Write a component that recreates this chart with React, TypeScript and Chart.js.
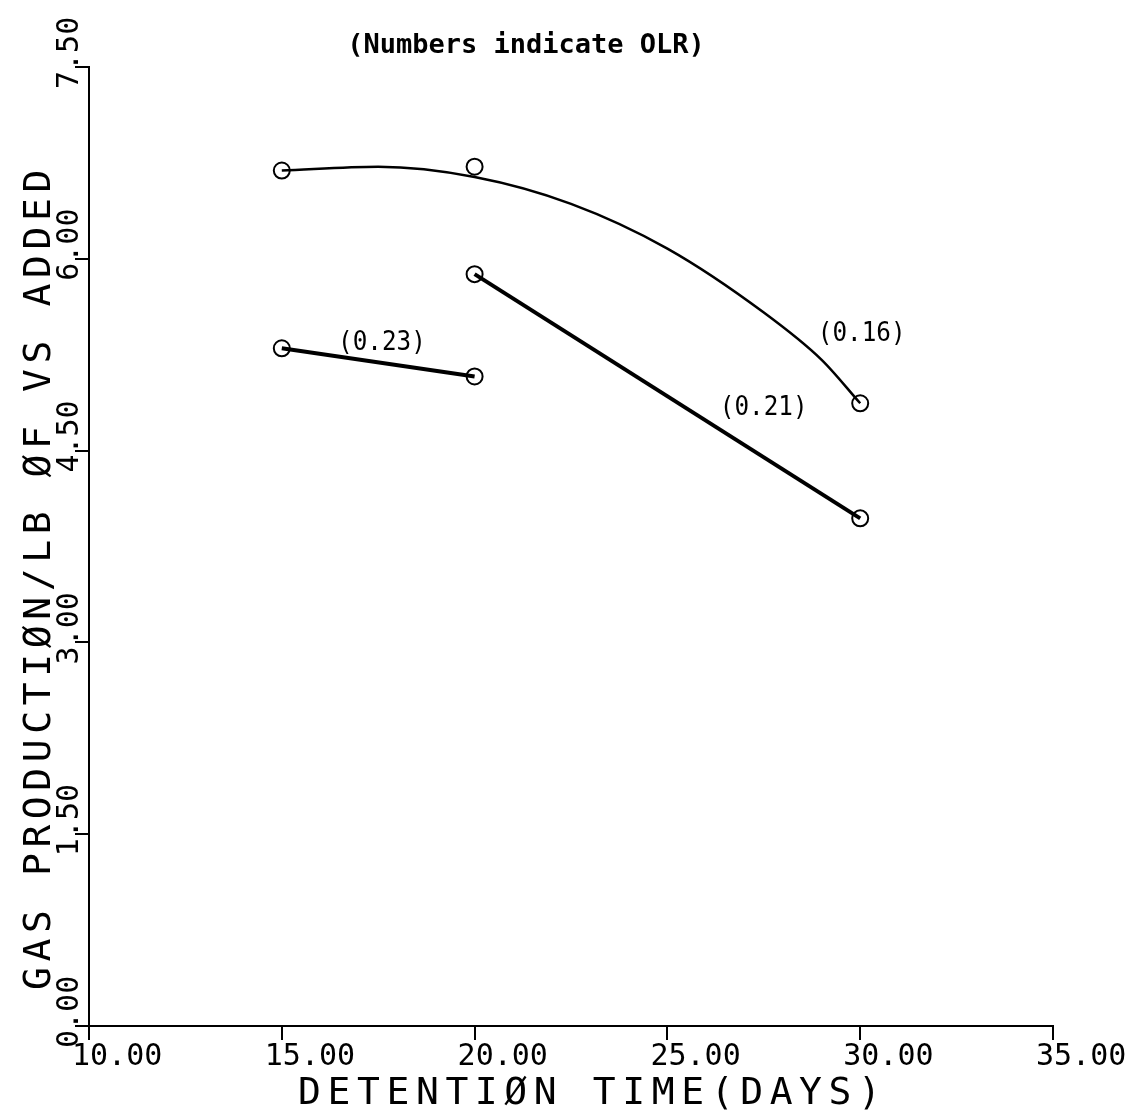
import React, { useEffect, useRef } from "react";
import { Chart, registerables } from "chart.js";

Chart.register(...registerables);

// Axis ticks
const xTicks = [10, 15, 20, 25, 30, 35];
const xTickLabels = ["10.00", "15.00", "20.00", "25.00", "30.00", "35.00"];
const yTicks = [0, 1.5, 3, 4.5, 6, 7.5];
const yTickLabels = ["0.00", "1.50", "3.00", "4.50", "6.00", "7.50"];

const olr016X = [15, 20, 30];
const olr016Y = [6.69, 6.72, 4.87];
const olr016CurveX = [15, 17.5, 20, 22.5, 25, 27.5, 29, 30];
const olr016CurveY = [6.69, 6.72, 6.64, 6.43, 6.08, 5.58, 5.21, 4.87];

// OLR 0.21
const olr021X = [20, 30];
const olr021Y = [5.88, 3.97];

// OLR 0.23
const olr023X = [15, 20];
const olr023Y = [5.3, 5.08];

// Annotations (text placed at data coordinates)
const noteTexts = ["(0.23)", "(0.21)", "(0.16)"];
const noteX = [16.46, 26.36, 28.9];
const noteY = [5.29, 4.78, 5.36];

const titleText = "(Numbers indicate OLR)";
const xTitle = "DETENTIØN TIME(DAYS)";
const yTitle = "GAS PRODUCTIØN/LB ØF VS ADDED";

const W = 1137;
const H = 1112;
const MONO = '"DejaVu Sans Mono", "Liberation Mono", monospace';

const zip = (xs: number[], ys: number[]) => xs.map((v, i) => ({ x: v, y: ys[i] }));

const textPlugin = {
  id: "plotterTexts",
  afterDraw(chart: any) {
    const { ctx } = chart;
    const x = chart.scales.x;
    const y = chart.scales.y;
    ctx.save();
    ctx.fillStyle = "#000";
    ctx.textAlign = "left";
    ctx.textBaseline = "alphabetic";

    // x tick labels
    ctx.font = `30px ${MONO}`;
    xTicks.forEach((v, i) => {
      const px = x.getPixelForValue(v);
      ctx.fillText(xTickLabels[i], px - 17, x.top + 39);
    });

    // y tick labels (rotated)
    yTicks.forEach((v, i) => {
      const py = y.getPixelForValue(v);
      ctx.save();
      ctx.translate(y.right - 11, py + 22);
      ctx.rotate(-Math.PI / 2);
      ctx.fillText(yTickLabels[i], 0, 0);
      ctx.restore();
    });

    // x axis title (plotter style: narrow letters, wide spacing)
    ctx.save();
    ctx.font = `38px ${MONO}`;
    (ctx as any).letterSpacing = "6.6px";
    ctx.fillText(xTitle, 298, 1104);
    ctx.restore();

    // y axis title
    ctx.save();
    ctx.font = `38px ${MONO}`;
    (ctx as any).letterSpacing = "5.6px";
    ctx.translate(50, 990);
    ctx.rotate(-Math.PI / 2);
    ctx.fillText(yTitle, 0, 0);
    ctx.restore();

    // top note
    ctx.font = `bold 27px ${MONO}`;
    ctx.textAlign = "center";
    ctx.fillText(titleText, 526, 53);

    // OLR annotations
    ctx.textAlign = "left";
    ctx.font = `27px ${MONO}`;
    noteTexts.forEach((t, i) => {
      ctx.save();
      ctx.translate(x.getPixelForValue(noteX[i]), y.getPixelForValue(noteY[i]));
      ctx.scale(0.9, 1);
      ctx.fillText(t, 0, 0);
      ctx.restore();
    });
    ctx.restore();
  },
};

export default function App() {
  const ref = useRef<HTMLCanvasElement | null>(null);

  useEffect(() => {
    if (!ref.current) return;
    const markerStyle = {
      pointRadius: 8,
      pointHoverRadius: 8,
      pointBorderWidth: 2,
      pointBorderColor: "#000",
      pointBackgroundColor: "rgba(0,0,0,0)",
      pointStyle: "circle" as const,
    };
    const chart = new Chart(ref.current, {
      type: "scatter",
      data: {
        datasets: [
          {
            label: "OLR 0.16 curve",
            data: zip(olr016CurveX, olr016CurveY),
            showLine: true,
            borderColor: "#000",
            borderWidth: 2.5,
            cubicInterpolationMode: "monotone",
            pointRadius: 0,
            pointHoverRadius: 0,
          },
          {
            label: "OLR 0.16",
            data: zip(olr016X, olr016Y),
            showLine: false,
            ...markerStyle,
          },
          {
            label: "OLR 0.21",
            data: zip(olr021X, olr021Y),
            showLine: true,
            borderColor: "#000",
            borderWidth: 4,
            ...markerStyle,
          },
          {
            label: "OLR 0.23",
            data: zip(olr023X, olr023Y),
            showLine: true,
            borderColor: "#000",
            borderWidth: 4,
            ...markerStyle,
          },
        ],
      },
      options: {
        responsive: false,
        animation: false,
        devicePixelRatio: 1,
        layout: { padding: { left: 0, top: 67, right: 84, bottom: 0 } },
        plugins: {
          legend: { display: false },
          tooltip: { enabled: false },
          title: { display: false },
        },
        scales: {
          x: {
            type: "linear",
            min: 10,
            max: 35,
            afterBuildTicks: (s: any) => {
              s.ticks = xTicks.map((v) => ({ value: v }));
            },
            afterFit: (s: any) => {
              s.height = 86;
            },
            ticks: { display: false },
            grid: {
              display: true,
              drawOnChartArea: false,
              drawTicks: true,
              tickLength: 14,
              color: "#000",
              lineWidth: 2,
            },
            border: { display: true, color: "#000", width: 2 },
          },
          y: {
            type: "linear",
            min: 0,
            max: 7.5,
            afterBuildTicks: (s: any) => {
              s.ticks = yTicks.map((v) => ({ value: v }));
            },
            afterFit: (s: any) => {
              s.width = 89;
            },
            ticks: { display: false },
            grid: {
              display: true,
              drawOnChartArea: false,
              drawTicks: true,
              tickLength: 14,
              color: "#000",
              lineWidth: 2,
            },
            border: { display: true, color: "#000", width: 2 },
          },
        },
      },
      plugins: [textPlugin],
    });
    return () => chart.destroy();
  }, []);

  return (
    <div style={{ position: "absolute", left: 0, top: 0, width: W, height: H, background: "#fff" }}>
      <canvas ref={ref} width={W} height={H} style={{ width: W, height: H, display: "block" }} />
    </div>
  );
}
